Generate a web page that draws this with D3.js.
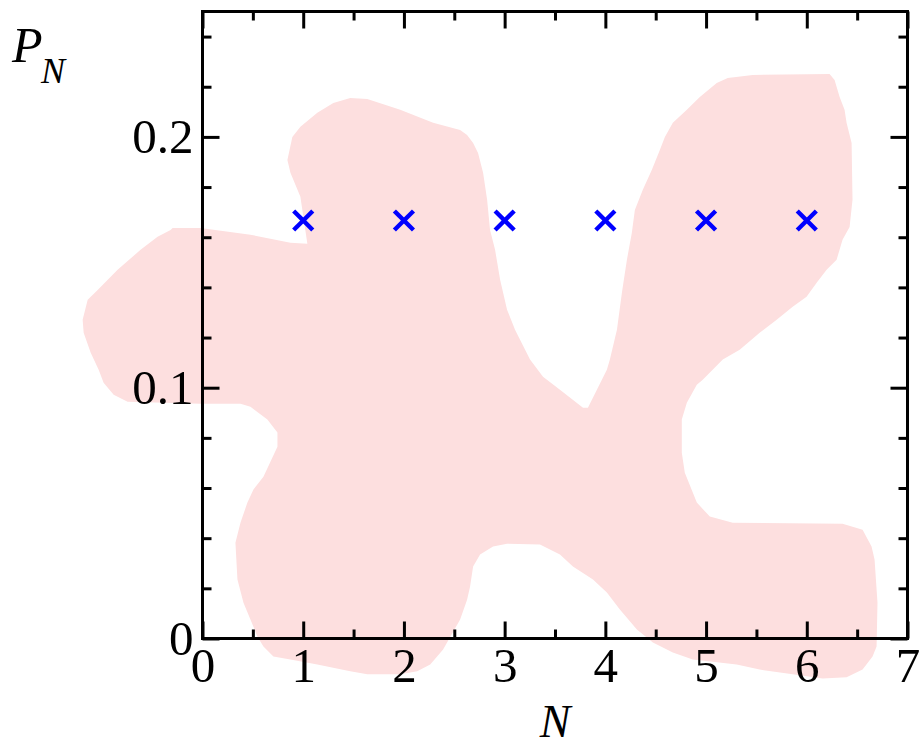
<!DOCTYPE html>
<html>
<head>
<meta charset="utf-8">
<script src="https://cdn.jsdelivr.net/npm/d3@7"></script>
<style>
  html, body { margin: 0; padding: 0; background: #fff; }
  svg { display: block; }
  text { font-family: "Liberation Serif", "Times New Roman", serif; fill: #000; }
</style>
</head>
<body>
<svg id="chart" width="920" height="747"></svg>
<script>
// Probability P_N for each count N
const nValues = [1, 2, 3, 4, 5, 6];
const pValues = [1/6, 1/6, 1/6, 1/6, 1/6, 1/6];

// Tick values
const xMajorTicks = [0, 1, 2, 3, 4, 5, 6, 7];
const xMinorTicks = [0.5, 1.5, 2.5, 3.5, 4.5, 5.5, 6.5];
const yMajorTicks = [0, 0.1, 0.2];
const yMinorTicks = [0.02, 0.04, 0.06, 0.08, 0.12, 0.14, 0.16, 0.18, 0.22, 0.24];
const yTickLabels = ["0", "0.1", "0.2"];

// Background shaded region outline, in (N, P) units
const regionN = [-0.297, -0.020, 0.476, 0.873, 1.041, 0.972, 0.873, 0.843, 0.892, 0.972,
  1.140, 1.299, 1.467, 1.636, 1.963, 2.290, 2.558, 2.627, 2.687, 2.736,
  2.786, 2.826, 2.855, 2.905, 2.955, 3.024, 3.103, 3.252, 3.381, 3.549,
  3.778, 3.827, 3.916, 4.015, 4.045, 4.115, 4.164, 4.214, 4.263, 4.293,
  4.372, 4.462, 4.541, 4.591, 4.670, 4.809, 4.938, 5.106, 5.215, 5.463,
  6.226, 6.276, 6.326, 6.375, 6.395, 6.445, 6.454, 6.425, 6.355, 6.296,
  6.197, 6.098, 5.998, 5.860, 5.701, 5.532, 5.334, 5.166, 4.967, 4.908,
  4.809, 4.759, 4.759, 4.789, 4.908, 5.037, 5.265, 6.355, 6.554, 6.643,
  6.673, 6.702, 6.693, 6.653, 6.554, 6.395, 6.157, 5.860, 5.532, 5.304,
  4.868, 4.670, 4.472, 4.313, 4.144, 4.015, 3.877, 3.678, 3.549, 3.351,
  3.024, 2.885, 2.756, 2.687, 2.657, 2.627, 2.558, 2.389, 2.261, 2.132,
  1.963, 1.636, 1.467, 1.140, 0.873, 0.704, 0.605, 0.545, 0.476, 0.407,
  0.347, 0.327, 0.377, 0.446, 0.506, 0.605, 0.744, 0.744, 0.644, 0.476,
  0.377, -0.020, -0.744, -0.882, -0.982, -1.031, -1.110, -1.180, -1.190, -1.140,
  -1.041, -0.843, -0.615, -0.446, -0.317];
const regionP = [0.1637, 0.1637, 0.1610, 0.1578, 0.1574, 0.1761, 0.1857, 0.1908, 0.2000, 0.2040,
  0.2096, 0.2135, 0.2155, 0.2151, 0.2108, 0.2056, 0.2028, 0.2008, 0.1976, 0.1936,
  0.1857, 0.1749, 0.1629, 0.1550, 0.1430, 0.1311, 0.1231, 0.1112, 0.1044, 0.0992,
  0.0920, 0.0920, 0.0992, 0.1072, 0.1112, 0.1231, 0.1378, 0.1510, 0.1618, 0.1709,
  0.1789, 0.1869, 0.1948, 0.2000, 0.2056, 0.2108, 0.2159, 0.2215, 0.2235, 0.2247,
  0.2251, 0.2227, 0.2159, 0.2108, 0.2056, 0.1976, 0.1749, 0.1641, 0.1590, 0.1510,
  0.1470, 0.1418, 0.1363, 0.1323, 0.1271, 0.1219, 0.1151, 0.1112, 0.1032, 0.1012,
  0.0940, 0.0873, 0.0741, 0.0661, 0.0542, 0.0486, 0.0462, 0.0458, 0.0434, 0.0367,
  0.0315, 0.0143, -0.0032, -0.0072, -0.0124, -0.0155, -0.0159, -0.0143, -0.0124, -0.0104,
  -0.0084, -0.0056, -0.0016, 0.0036, 0.0116, 0.0183, 0.0235, 0.0287, 0.0335, 0.0375,
  0.0378, 0.0367, 0.0335, 0.0287, 0.0207, 0.0155, 0.0076, -0.0044, -0.0104, -0.0131,
  -0.0143, -0.0143, -0.0131, -0.0104, -0.0084, -0.0072, -0.0032, 0.0008, 0.0076, 0.0143,
  0.0235, 0.0382, 0.0462, 0.0542, 0.0594, 0.0645, 0.0765, 0.0821, 0.0873, 0.0924,
  0.0936, 0.0936, 0.0944, 0.0972, 0.1020, 0.1072, 0.1139, 0.1219, 0.1271, 0.1351,
  0.1390, 0.1470, 0.1550, 0.1602, 0.1629];

const svg = d3.select("#chart");
const plotLeft = 202.5, plotRight = 907.5, plotTop = 11.5, plotBottom = 638.5;

const x = d3.scaleLinear().domain([0, 7]).range([plotLeft, plotRight]);
const y = d3.scaleLinear().domain([0, 0.25]).range([plotBottom, plotTop]);

// Shaded region
const regionPts = regionN.map((n, i) => [n, regionP[i]]);
svg.append("path")
  .datum(regionPts)
  .attr("fill", "#fddfdf")
  .attr("d", d3.line().x(d => x(d[0])).y(d => y(d[1])).curve(d3.curveLinearClosed));

// Cross markers
const half = 8;
const marks = svg.append("g").attr("stroke", "#0000ff").attr("stroke-width", 4.4).attr("stroke-linecap", "square");
nValues.forEach((n, i) => {
  const cx = x(n), cy = y(pValues[i]);
  marks.append("line").attr("x1", cx - half).attr("y1", cy - half).attr("x2", cx + half).attr("y2", cy + half);
  marks.append("line").attr("x1", cx - half).attr("y1", cy + half).attr("x2", cx + half).attr("y2", cy - half);
});

// Axes with inward ticks on all four sides
const majorLen = 17, minorLen = 9, fontSize = 49;
function styleAxis(g) {
  g.select(".domain").remove();
  g.selectAll(".tick line").attr("stroke", "#000").attr("stroke-width", 3);
  g.selectAll(".tick text").attr("font-size", fontSize).attr("font-family", "Liberation Serif, serif").attr("fill", "#000");
}

svg.append("g").attr("transform", `translate(0,${plotBottom})`)
  .call(d3.axisBottom(x).tickValues(xMajorTicks).tickFormat(d3.format("d")).tickSizeInner(-majorLen).tickSizeOuter(0).tickPadding(9))
  .call(styleAxis);
svg.append("g").attr("transform", `translate(0,${plotBottom})`)
  .call(d3.axisBottom(x).tickValues(xMinorTicks).tickFormat("").tickSizeInner(-minorLen).tickSizeOuter(0))
  .call(styleAxis);
svg.append("g").attr("transform", `translate(0,${plotTop})`)
  .call(d3.axisTop(x).tickValues(xMajorTicks).tickFormat("").tickSizeInner(-majorLen).tickSizeOuter(0))
  .call(styleAxis);
svg.append("g").attr("transform", `translate(0,${plotTop})`)
  .call(d3.axisTop(x).tickValues(xMinorTicks).tickFormat("").tickSizeInner(-minorLen).tickSizeOuter(0))
  .call(styleAxis);

svg.append("g").attr("transform", `translate(${plotLeft},0)`)
  .call(d3.axisLeft(y).tickValues(yMajorTicks).tickFormat((d, i) => yTickLabels[i]).tickSizeInner(-majorLen).tickSizeOuter(0).tickPadding(9))
  .call(styleAxis);
svg.append("g").attr("transform", `translate(${plotLeft},0)`)
  .call(d3.axisLeft(y).tickValues(yMinorTicks).tickFormat("").tickSizeInner(-minorLen).tickSizeOuter(0))
  .call(styleAxis);
svg.append("g").attr("transform", `translate(${plotRight},0)`)
  .call(d3.axisRight(y).tickValues(yMajorTicks).tickFormat("").tickSizeInner(-majorLen).tickSizeOuter(0))
  .call(styleAxis);
svg.append("g").attr("transform", `translate(${plotRight},0)`)
  .call(d3.axisRight(y).tickValues(yMinorTicks).tickFormat("").tickSizeInner(-minorLen).tickSizeOuter(0))
  .call(styleAxis);

// Frame
svg.append("rect")
  .attr("x", plotLeft).attr("y", plotTop)
  .attr("width", plotRight - plotLeft).attr("height", plotBottom - plotTop)
  .attr("fill", "none").attr("stroke", "#000").attr("stroke-width", 3);

// Axis titles
svg.append("text")
  .attr("x", (plotLeft + plotRight) / 2).attr("y", 737)
  .attr("text-anchor", "middle")
  .attr("font-size", 46).attr("font-style", "italic")
  .text("N");

const yTitle = svg.append("text").attr("x", 12).attr("y", 62).attr("font-style", "italic");
yTitle.append("tspan").attr("font-size", 50).text("P");
yTitle.append("tspan").attr("font-size", 36).attr("x", 41).attr("y", 83).text("N");
</script>
</body>
</html>
